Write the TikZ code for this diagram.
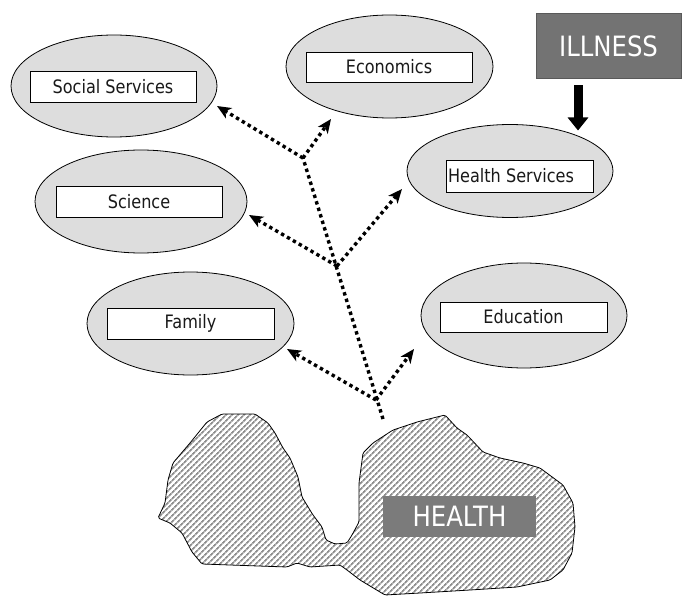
\documentclass[tikz,border=0pt]{standalone}
\usepackage{fontspec}
\setmainfont{DejaVu Sans}[FakeStretch=0.87]
\usetikzlibrary{arrows.meta,patterns.meta,shapes.geometric}
\definecolor{ellfill}{HTML}{DDDDDD}
\definecolor{boxgray}{HTML}{737373}
\definecolor{healthgray}{HTML}{7B7B7B}
\definecolor{hatchgray}{HTML}{8F8F8F}
\begin{document}
\begin{tikzpicture}[x=1pt,y=-1pt,
  ell/.style={ellipse, draw=black, line width=0.8pt, fill=ellfill, inner sep=0pt},
  lbl/.style={draw=black, line width=0.9pt, fill=white, inner sep=0pt},
  lbltext/.style={font=\fontsize{18.5}{20}\selectfont, text=black!90, inner sep=0pt},
  dotarr/.style={line width=3.4pt, dash pattern=on 3.4pt off 3.4pt, -{Stealth[length=14pt,width=12pt,inset=4pt]}},
  dotline/.style={line width=3.4pt, dash pattern=on 3.4pt off 3.4pt},
  bigbox/.style={fill=boxgray, text=white, font=\fontsize{28}{30}\selectfont, inner sep=0pt},
  bigarrow/.style={line width=9pt, -{Triangle[length=13pt,width=20pt]}},
]
\useasboundingbox (0,0) rectangle (682,596);

% blob
\draw[line width=0.8pt, rounded corners=1.5pt,
  pattern={Lines[angle=45,distance=4pt,line width=1.8pt]}, pattern color=hatchgray]
  (222,414) -- (255,414) -- (268,423) -- (275,433) -- (283,448) -- (290,458) -- (298,477)
  -- (302,497) -- (313,515) -- (322,527) -- (326,540) -- (335,544) -- (347,543) -- (352,535)
  -- (359,522) -- (359,483) -- (363,453) -- (373,443) -- (393,430) -- (417,422) -- (445,415)
  -- (457,428) -- (467,435) -- (483,452) -- (500,458) -- (523,463) -- (540,468) -- (563,485)
  -- (573,503) -- (575,527) -- (572,553) -- (563,570) -- (550,580) -- (517,587) -- (470,590)
  -- (420,593) -- (385,595) -- (360,580) -- (347,570) -- (340,565) -- (310,567) -- (297,563)
  -- (287,567) -- (202,564) -- (192,552) -- (182,533) -- (170,523) -- (158,518) -- (165,503)
  -- (168,480) -- (173,463) -- (190,443) -- (207,422) -- cycle;

\node[bigbox, fill=healthgray, minimum width=153pt, minimum height=41pt] (health) at (459.5,516.5) {HEALTH};

% ellipses
\node[ell, minimum width=206pt, minimum height=102pt] (soc) at (114,86) {};
\node[lbl, minimum width=166pt, minimum height=31pt] (socb) at (113,86.5) {};
\node[lbltext] at (socb) {Social Services};

\node[ell, minimum width=207pt, minimum height=103pt] (eco) at (389.5,66.5) {};
\node[lbl, minimum width=166pt, minimum height=30pt] (ecob) at (389,67) {};
\node[lbltext] at (ecob) {Economics};

\node[ell, minimum width=206pt, minimum height=93pt] (hs) at (510,171) {};
\node[lbl, minimum width=147pt, minimum height=32pt] (hsb) at (519.5,176) {};
\node[lbltext] at (511,176) {Health Services};

\node[ell, minimum width=212pt, minimum height=103pt] (sci) at (141,201.5) {};
\node[lbl, minimum width=166pt, minimum height=31pt] (scib) at (139,201.5) {};
\node[lbltext] at (scib) {Science};

\node[ell, minimum width=207pt, minimum height=103pt] (fam) at (190.5,323.5) {};
\node[lbl, minimum width=167pt, minimum height=31pt] (famb) at (190.5,323.5) {};
\node[lbltext] at (famb) {Family};

\node[ell, minimum width=206pt, minimum height=105pt] (edu) at (524,315.5) {};
\node[lbl, minimum width=167pt, minimum height=30pt] (edub) at (523.5,317) {};
\node[lbltext] at (edub) {Education};

% ILLNESS
\node[bigbox, draw=black!65, line width=1pt, minimum width=145pt, minimum height=65pt] (ill) at (608.5,46.5) {ILLNESS};
\coordinate (ia) at ([xshift=-30.5pt,yshift=-6pt]ill.south);
\coordinate (ib) at ([xshift=-30.5pt,yshift=-51pt]ill.south);
\draw[bigarrow] (ia) -- (ib);

% tree of dotted arrows
\coordinate (j0) at (383,419);
\coordinate (j1) at (376,400);
\coordinate (j2) at (337,266);
\coordinate (j3) at (303,158);
\coordinate (tf) at (287,349);
\coordinate (te) at (414,349);
\coordinate (ts) at (249,215);
\coordinate (th) at (402,189);
\coordinate (tso) at (217,106);
\coordinate (tec) at (331,119);

\draw[dotline] (j0) -- (j3);
\draw[dotarr] (j1) -- (tf);
\draw[dotarr] (j1) -- (te);
\draw[dotarr] (j2) -- (ts);
\draw[dotarr] (j2) -- (th);
\draw[dotarr] (j3) -- (tso);
\draw[dotarr] (j3) -- (tec);
\end{tikzpicture}
\end{document}
